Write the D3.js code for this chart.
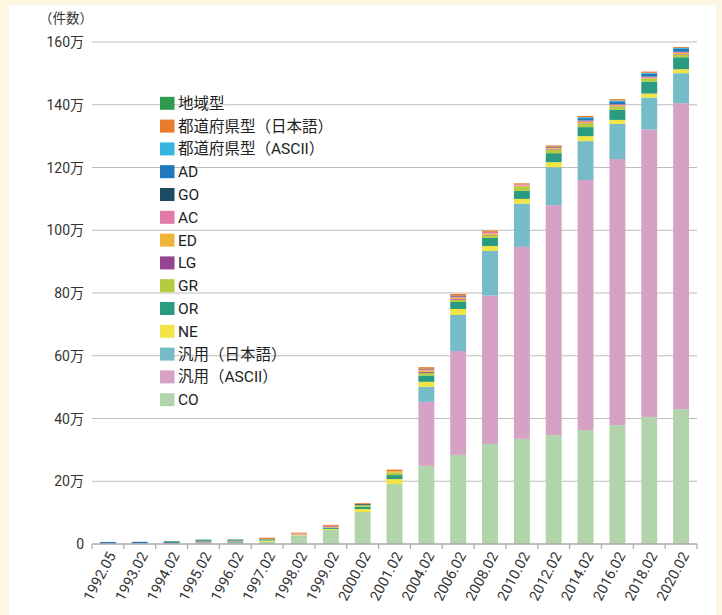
<!DOCTYPE html>
<html>
<head>
<meta charset="utf-8">
<script src="https://cdn.jsdelivr.net/npm/d3@7"></script>
<style>
  html, body { margin: 0; padding: 0; background: #fdf6e3; }
  svg { display: block; }
  text { font-family: Roboto, "Noto Sans CJK JP", "Noto Sans", sans-serif; }
</style>
</head>
<body>
<svg id="chart" width="722" height="615"></svg>
<script>
// ---- Data (units: 万件) ----
const categories = ["1992.05","1993.02","1994.02","1995.02","1996.02","1997.02","1998.02","1999.02","2000.02","2001.02","2004.02","2006.02","2008.02","2010.02","2012.02","2014.02","2016.02","2018.02","2020.02"];

// stack order: bottom -> top
const seriesNames = ["CO","汎用（ASCII）","汎用（日本語）","NE","OR","GR","LG","ED","AC","GO","AD","都道府県型（ASCII）","都道府県型（日本語）","地域型"];
const seriesColors = ["#b2d4aa","#d5a2c5","#75bcc8","#f1e545","#2a9a80","#b5cc3e","#96448f","#f0b43a","#e07aa8","#1c4a63","#1f78bc","#36b5e3","#ea7b2b","#2e9a4f"];

const CO        = [0, 0.1, 0, 0.35, 0.35, 0.7, 2.77, 4.5, 10.2, 19.1, 24.9, 28.4, 31.9, 33.5, 34.7, 36.3, 37.9, 40.5, 43.0];
const genASCII  = [0, 0, 0, 0, 0, 0, 0, 0, 0, 0, 20.4, 33.1, 47.3, 61.2, 73.3, 79.7, 84.8, 91.6, 97.5];
const genJP     = [0, 0, 0, 0, 0, 0, 0, 0, 0, 0, 4.8, 11.5, 14.2, 13.8, 12.1, 12.4, 11.2, 10.2, 9.56];
const NE        = [0, 0, 0, 0.05, 0.1, 0.3, 0.25, 0.3, 0.95, 1.6, 1.6, 1.9, 1.6, 1.49, 1.6, 1.6, 1.27, 1.27, 1.27];
const OR        = [0, 0, 0, 0.15, 0.3, 0.2, 0, 0.4, 0.75, 1.27, 2.0, 2.23, 2.55, 2.55, 2.87, 2.87, 3.2, 3.8, 3.8];
const GR        = [0, 0, 0, 0, 0, 0.25, 0, 0.2, 0.5, 0.85, 0.85, 0.75, 0.85, 1.27, 1.0, 1.17, 1.06, 0.85, 0.85];
const LG        = [0, 0, 0, 0, 0, 0, 0, 0, 0, 0, 0.3, 0.2, 0.1, 0.1, 0.2, 0.1, 0.1, 0.1, 0.15];
const ED        = [0, 0, 0, 0, 0, 0, 0, 0, 0, 0.4, 0.5, 0.4, 0.5, 0.35, 0.35, 0.4, 0.3, 0.3, 0.4];
const AC        = [0.3, 0.15, 0.3, 0.3, 0.25, 0, 0.35, 0.4, 0, 0, 0.3, 0.4, 0.5, 0.4, 0.3, 0.4, 0.3, 0.3, 0.3];
const GO        = [0, 0, 0.2, 0, 0.1, 0, 0, 0, 0.3, 0, 0.2, 0.3, 0, 0, 0.2, 0.05, 0.05, 0.05, 0.05];
const AD        = [0.35, 0.45, 0.15, 0.15, 0.05, 0.15, 0, 0, 0, 0, 0, 0, 0, 0, 0, 0.75, 0.9, 0.9, 0.9];
const prefASCII = [0, 0, 0, 0, 0, 0, 0, 0, 0, 0, 0, 0, 0, 0, 0, 0.3, 0.3, 0.3, 0.3];
const prefJP    = [0, 0, 0, 0, 0, 0.4, 0.25, 0.3, 0.3, 0.5, 0.5, 0.5, 0.4, 0.3, 0.4, 0.4, 0.4, 0.4, 0.3];
const regional  = [0, 0, 0.25, 0.4, 0.3, 0, 0, 0, 0, 0, 0, 0, 0, 0, 0, 0, 0, 0, 0];

const seriesValues = [CO, genASCII, genJP, NE, OR, GR, LG, ED, AC, GO, AD, prefASCII, prefJP, regional];

const yTickValues = [0, 20, 40, 60, 80, 100, 120, 140, 160];
const yTickLabels = ["0", "20万", "40万", "60万", "80万", "100万", "120万", "140万", "160万"];
const yUnitLabel = "（件数）";

// ---- Build table ----
const table = categories.map((c, i) => {
  const row = { cat: c };
  seriesNames.forEach((s, k) => { row[s] = seriesValues[k][i]; });
  return row;
});

const svg = d3.select("#chart");
const W = 722, H = 615;
const m = { left: 92, right: 25, top: 42, bottom: 71 };

// panel
svg.append("rect").attr("x", 9).attr("y", 5).attr("width", 707).attr("height", H - 5).attr("fill", "#ffffff");

const x = d3.scaleBand().domain(categories).range([m.left, W - m.right]).paddingInner(0.5).paddingOuter(0.25);
const y = d3.scaleLinear().domain([0, 160]).range([H - m.bottom, m.top]);

// grid lines
svg.append("g").selectAll("line").data(yTickValues.filter(v => v > 0)).join("line")
  .attr("x1", m.left).attr("x2", W - m.right)
  .attr("y1", d => y(d)).attr("y2", d => y(d))
  .attr("stroke", "#bdbdbd").attr("stroke-width", 1.2);

// y tick labels
svg.append("g").selectAll("text").data(yTickValues).join("text")
  .attr("x", 84).attr("y", d => y(d)).attr("dy", "0.36em")
  .attr("text-anchor", "end").attr("font-size", 14).attr("fill", "#333")
  .text((d, i) => yTickLabels[i]);

svg.append("text").attr("x", 66).attr("y", 23).attr("text-anchor", "middle")
  .attr("font-size", 13.5).attr("fill", "#333").text(yUnitLabel);

// stacked bars
const stack = d3.stack().keys(seriesNames);
const stacked = stack(table);
svg.append("g").selectAll("g").data(stacked).join("g")
  .attr("fill", (d, i) => seriesColors[i])
  .selectAll("rect").data(d => d).join("rect")
  .attr("x", d => x(d.data.cat))
  .attr("width", x.bandwidth())
  .attr("y", d => y(d[1]))
  .attr("height", d => Math.max(0, y(d[0]) - y(d[1])));

// x axis
const bandStep = x.step();
const boundaries = categories.map(c => x(c) - (bandStep - x.bandwidth()) / 2);
boundaries.push(W - m.right);
const xAxisG = svg.append("g");
xAxisG.append("line").attr("x1", m.left).attr("x2", W - m.right)
  .attr("y1", y(0)).attr("y2", y(0)).attr("stroke", "#aaa").attr("stroke-width", 1.5);
xAxisG.selectAll("line.tick").data(boundaries).join("line").attr("class", "tick")
  .attr("x1", d => d).attr("x2", d => d).attr("y1", y(0)).attr("y2", y(0) + 5)
  .attr("stroke", "#aaa").attr("stroke-width", 1.2);
xAxisG.selectAll("text").data(categories).join("text")
  .attr("transform", d => `translate(${x(d) + x.bandwidth() / 2 + 4},${y(0) + 9}) rotate(-62)`)
  .attr("text-anchor", "end").attr("dy", "0.35em")
  .attr("font-size", 14.5).attr("fill", "#333")
  .text(d => d);

// legend (top -> bottom = reverse stack)
const legendItems = seriesNames.map((s, i) => ({ name: s, color: seriesColors[i] })).reverse();
const lg = svg.append("g");
const lgRow = lg.selectAll("g").data(legendItems).join("g")
  .attr("transform", (d, i) => `translate(160,${103.3 + i * 22.8})`);
lgRow.append("rect").attr("x", 0).attr("y", -6.5).attr("width", 14.5).attr("height", 13).attr("fill", d => d.color);
lgRow.append("text").attr("x", 18).attr("y", 0).attr("dy", "0.36em")
  .attr("font-size", 15.5).attr("fill", "#222").text(d => d.name);
</script>
</body>
</html>
